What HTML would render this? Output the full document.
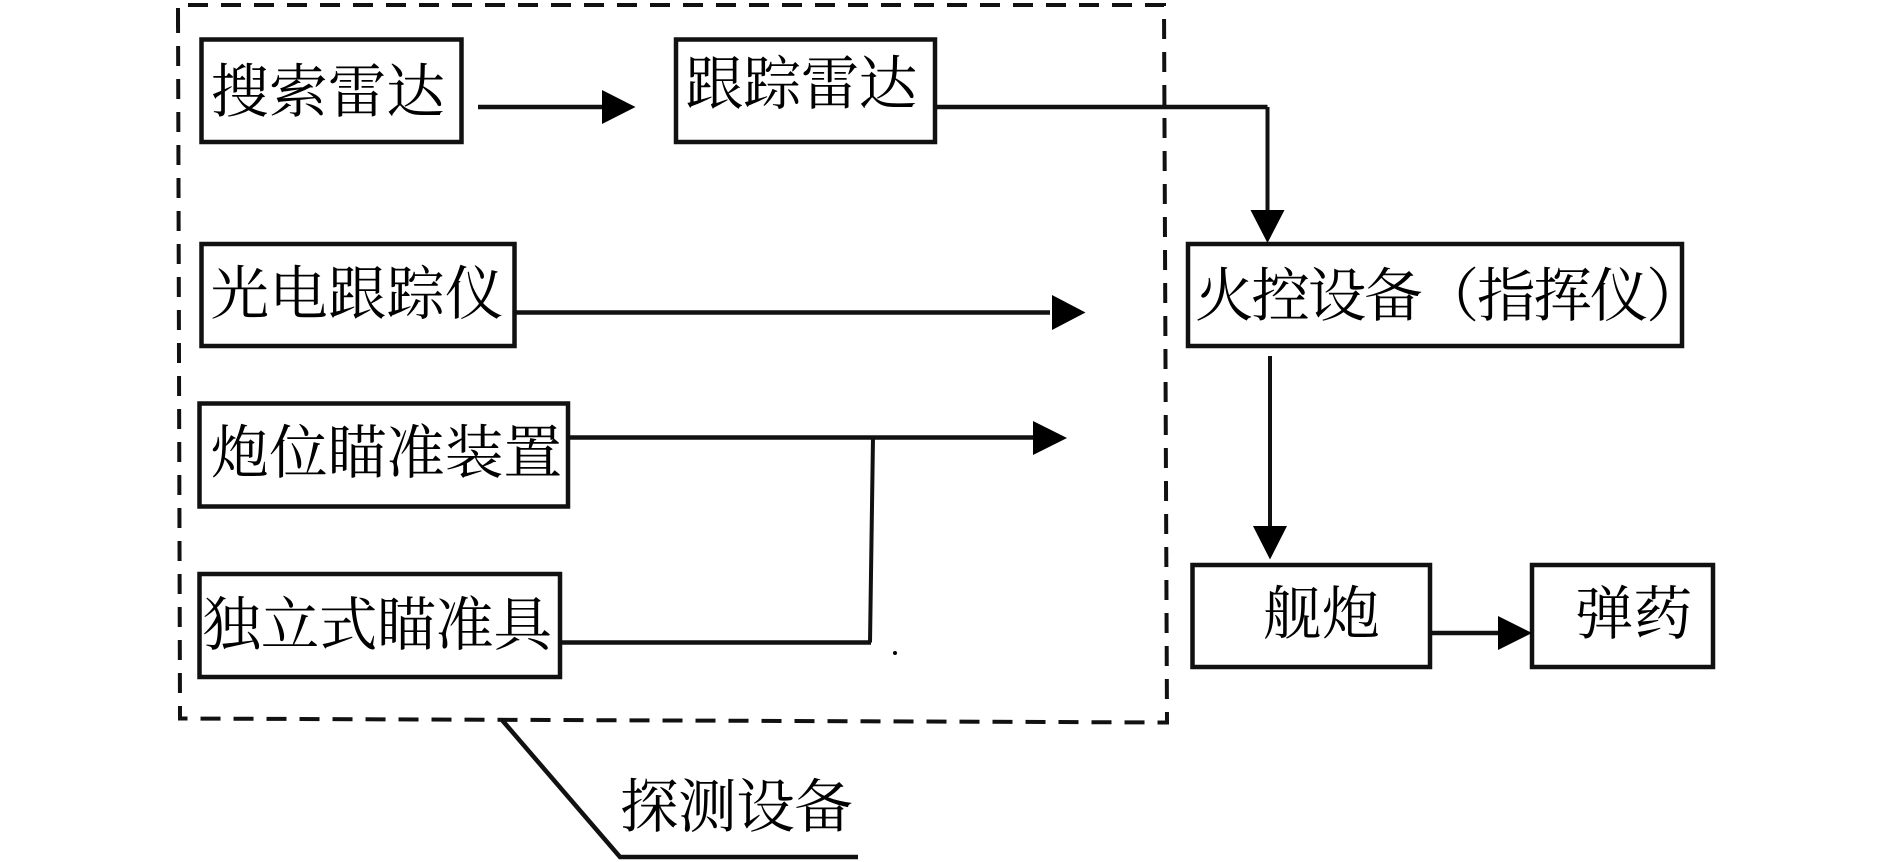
<!DOCTYPE html>
<html lang="zh">
<head>
<meta charset="utf-8">
<title>探测设备与火控设备框图</title>
<style>
html,body{margin:0;padding:0;background:#fff;width:1890px;height:862px;overflow:hidden}
svg{display:block}
text{font-family:"Liberation Serif","Noto Serif CJK SC",serif;font-size:58.600px;fill:#000}
</style>
</head>
<body>
<svg width="1890" height="862" viewBox="0 0 1890 862" xmlns="http://www.w3.org/2000/svg">
<rect width="1890" height="862" fill="#fff"/>
<g fill="none" stroke="#111" stroke-width="4.500">
<path d="M178 28V5H1164L1167 722.500L180 718.500L178 5" stroke-width="4" stroke-dasharray="20 13"/>
<rect x="201.500" y="39.500" width="260" height="102.500"/>
<rect x="676" y="39.500" width="259" height="102.500"/>
<rect x="201.500" y="244" width="313" height="102"/>
<rect x="199.500" y="403.500" width="368.500" height="103"/>
<rect x="199.500" y="574" width="360.500" height="103"/>
<rect x="1188" y="244" width="494" height="102"/>
<rect x="1192.500" y="565" width="237.500" height="102"/>
<rect x="1532" y="565" width="181" height="102"/>
<path d="M478 107H603"/>
<path d="M934 107H1267.500"/>
<path d="M1267.500 107V212" stroke-width="4"/>
<path d="M516 312.500H1050"/>
<path d="M568 437.500H1035"/>
<path d="M873 437.500L870 642.500" stroke-width="4"/>
<path d="M560 642.500H871"/>
<path d="M1270 356V530" stroke-width="4"/>
<path d="M1430 633H1503"/>
<path d="M502 720L620 857H858"/>
</g>
<g fill="#000">
<polygon points="602,90 635.500,107 602,124"/>
<polygon points="1250.500,210 1284.500,210 1267.500,243"/>
<polygon points="1052,295 1085.500,312.500 1052,330"/>
<polygon points="1033,421 1067,438 1033,455"/>
<polygon points="1253,526 1287,526 1270,559.500"/>
<polygon points="1498,616 1532,633 1498,650"/>
<circle cx="895" cy="653" r="2"/>
</g>
<text x="210.500" y="112">搜索雷达</text>
<text x="685" y="104" letter-spacing="-0.700">跟踪雷达</text>
<text x="210.500" y="314">光电跟踪仪</text>
<text x="210.500" y="473">炮位瞄准装置</text>
<text x="202.500" y="645" letter-spacing="-0.400">独立式瞄准具</text>
<text x="620" y="827" letter-spacing="-0.500">探测设备</text>
<text x="1195" y="316" letter-spacing="-2.200">火控设备（指挥仪）</text>
<text x="1263" y="634">舰炮</text>
<text x="1575" y="634">弹药</text>
</svg>
</body>
</html>
